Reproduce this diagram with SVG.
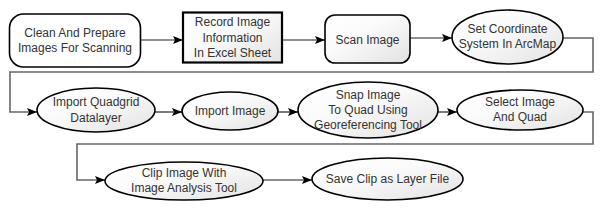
<svg xmlns="http://www.w3.org/2000/svg" width="603" height="210" viewBox="0 0 603 210">
<defs>
<linearGradient id="g" x1="0" y1="0" x2="1" y2="1">
<stop offset="0" stop-color="#ffffff"/>
<stop offset="0.4" stop-color="#fbfbfb"/>
<stop offset="1" stop-color="#e2e2e2"/>
</linearGradient>
<marker id="ah" viewBox="0 0 10 8" refX="10" refY="4" markerWidth="10" markerHeight="8" markerUnits="userSpaceOnUse" orient="auto">
<path d="M0,0 L10,4 L0,8 L2,4 Z" fill="#000"/>
</marker>
<style>
.n{fill:url(#g);stroke:#000;stroke-width:1.6}
.w{fill:#fff;stroke:#000;stroke-width:1.6}
.b{stroke-width:2.2}
.t{font-family:"Liberation Sans",Arial,sans-serif;font-size:12px;fill:#333;text-anchor:middle}
.c{fill:none;stroke:#222;stroke-width:1.2;marker-end:url(#ah)}
.l{fill:none;stroke:#666;stroke-width:1.6;marker-end:url(#ah)}
</style>
</defs>
<g id="connectors">
<path class="c" d="M140,40 H183"/>
<path class="c" d="M282,40 H325"/>
<path class="c" d="M410,38 H452"/>
<path class="l" d="M563,38 H593 V72 H10 V112 H37"/>
<path class="c" d="M155,112 H182"/>
<path class="c" d="M278,112 H298"/>
<path class="c" d="M438,112 H457"/>
<path class="l" d="M583,112 H593 V144 H77 V180 H105"/>
<path class="l" d="M263,180 H312"/>
</g>
<g id="n1">
<rect class="w" x="9.5" y="14" width="131" height="53" rx="14"/>
<text class="t" x="75" y="37">Clean And Prepare</text>
<text class="t" x="75" y="52">Images For Scanning</text>
</g>
<g id="n2">
<rect class="n b" x="183" y="12.5" width="99" height="50"/>
<text class="t" x="232.5" y="26">Record Image</text>
<text class="t" x="232.5" y="42">Information</text>
<text class="t" x="232.5" y="57">In Excel Sheet</text>
</g>
<g id="n3">
<rect class="n" x="325" y="15" width="85" height="48" rx="10"/>
<text class="t" x="367.5" y="44">Scan Image</text>
</g>
<g id="n4">
<ellipse class="n" cx="507.5" cy="37" rx="55.5" ry="27"/>
<text class="t" x="507.5" y="33">Set Coordinate</text>
<text class="t" x="507.5" y="48">System In ArcMap</text>
</g>
<g id="n5">
<ellipse class="n" cx="96" cy="110" rx="59" ry="22"/>
<text class="t" x="96" y="106">Import Quadgrid</text>
<text class="t" x="96" y="122">Datalayer</text>
</g>
<g id="n6">
<ellipse class="n" cx="230" cy="111" rx="48" ry="19"/>
<text class="t" x="230" y="115">Import Image</text>
</g>
<g id="n7">
<ellipse class="n" cx="368" cy="110" rx="70" ry="28"/>
<text class="t" x="368" y="99">Snap Image</text>
<text class="t" x="368" y="114">To Quad Using</text>
<text class="t" x="368" y="129">Georeferencing Tool</text>
</g>
<g id="n8">
<ellipse class="n" cx="520" cy="110" rx="63" ry="20"/>
<text class="t" x="520" y="106">Select Image</text>
<text class="t" x="520" y="121">And Quad</text>
</g>
<g id="n9">
<ellipse class="n" cx="184" cy="181" rx="79" ry="19"/>
<text class="t" x="184" y="177">Clip Image With</text>
<text class="t" x="184" y="192">Image Analysis Tool</text>
</g>
<g id="n10">
<ellipse class="n" cx="387.5" cy="179" rx="75.5" ry="21"/>
<text class="t" x="387.5" y="183">Save Clip as Layer File</text>
</g>
</svg>
